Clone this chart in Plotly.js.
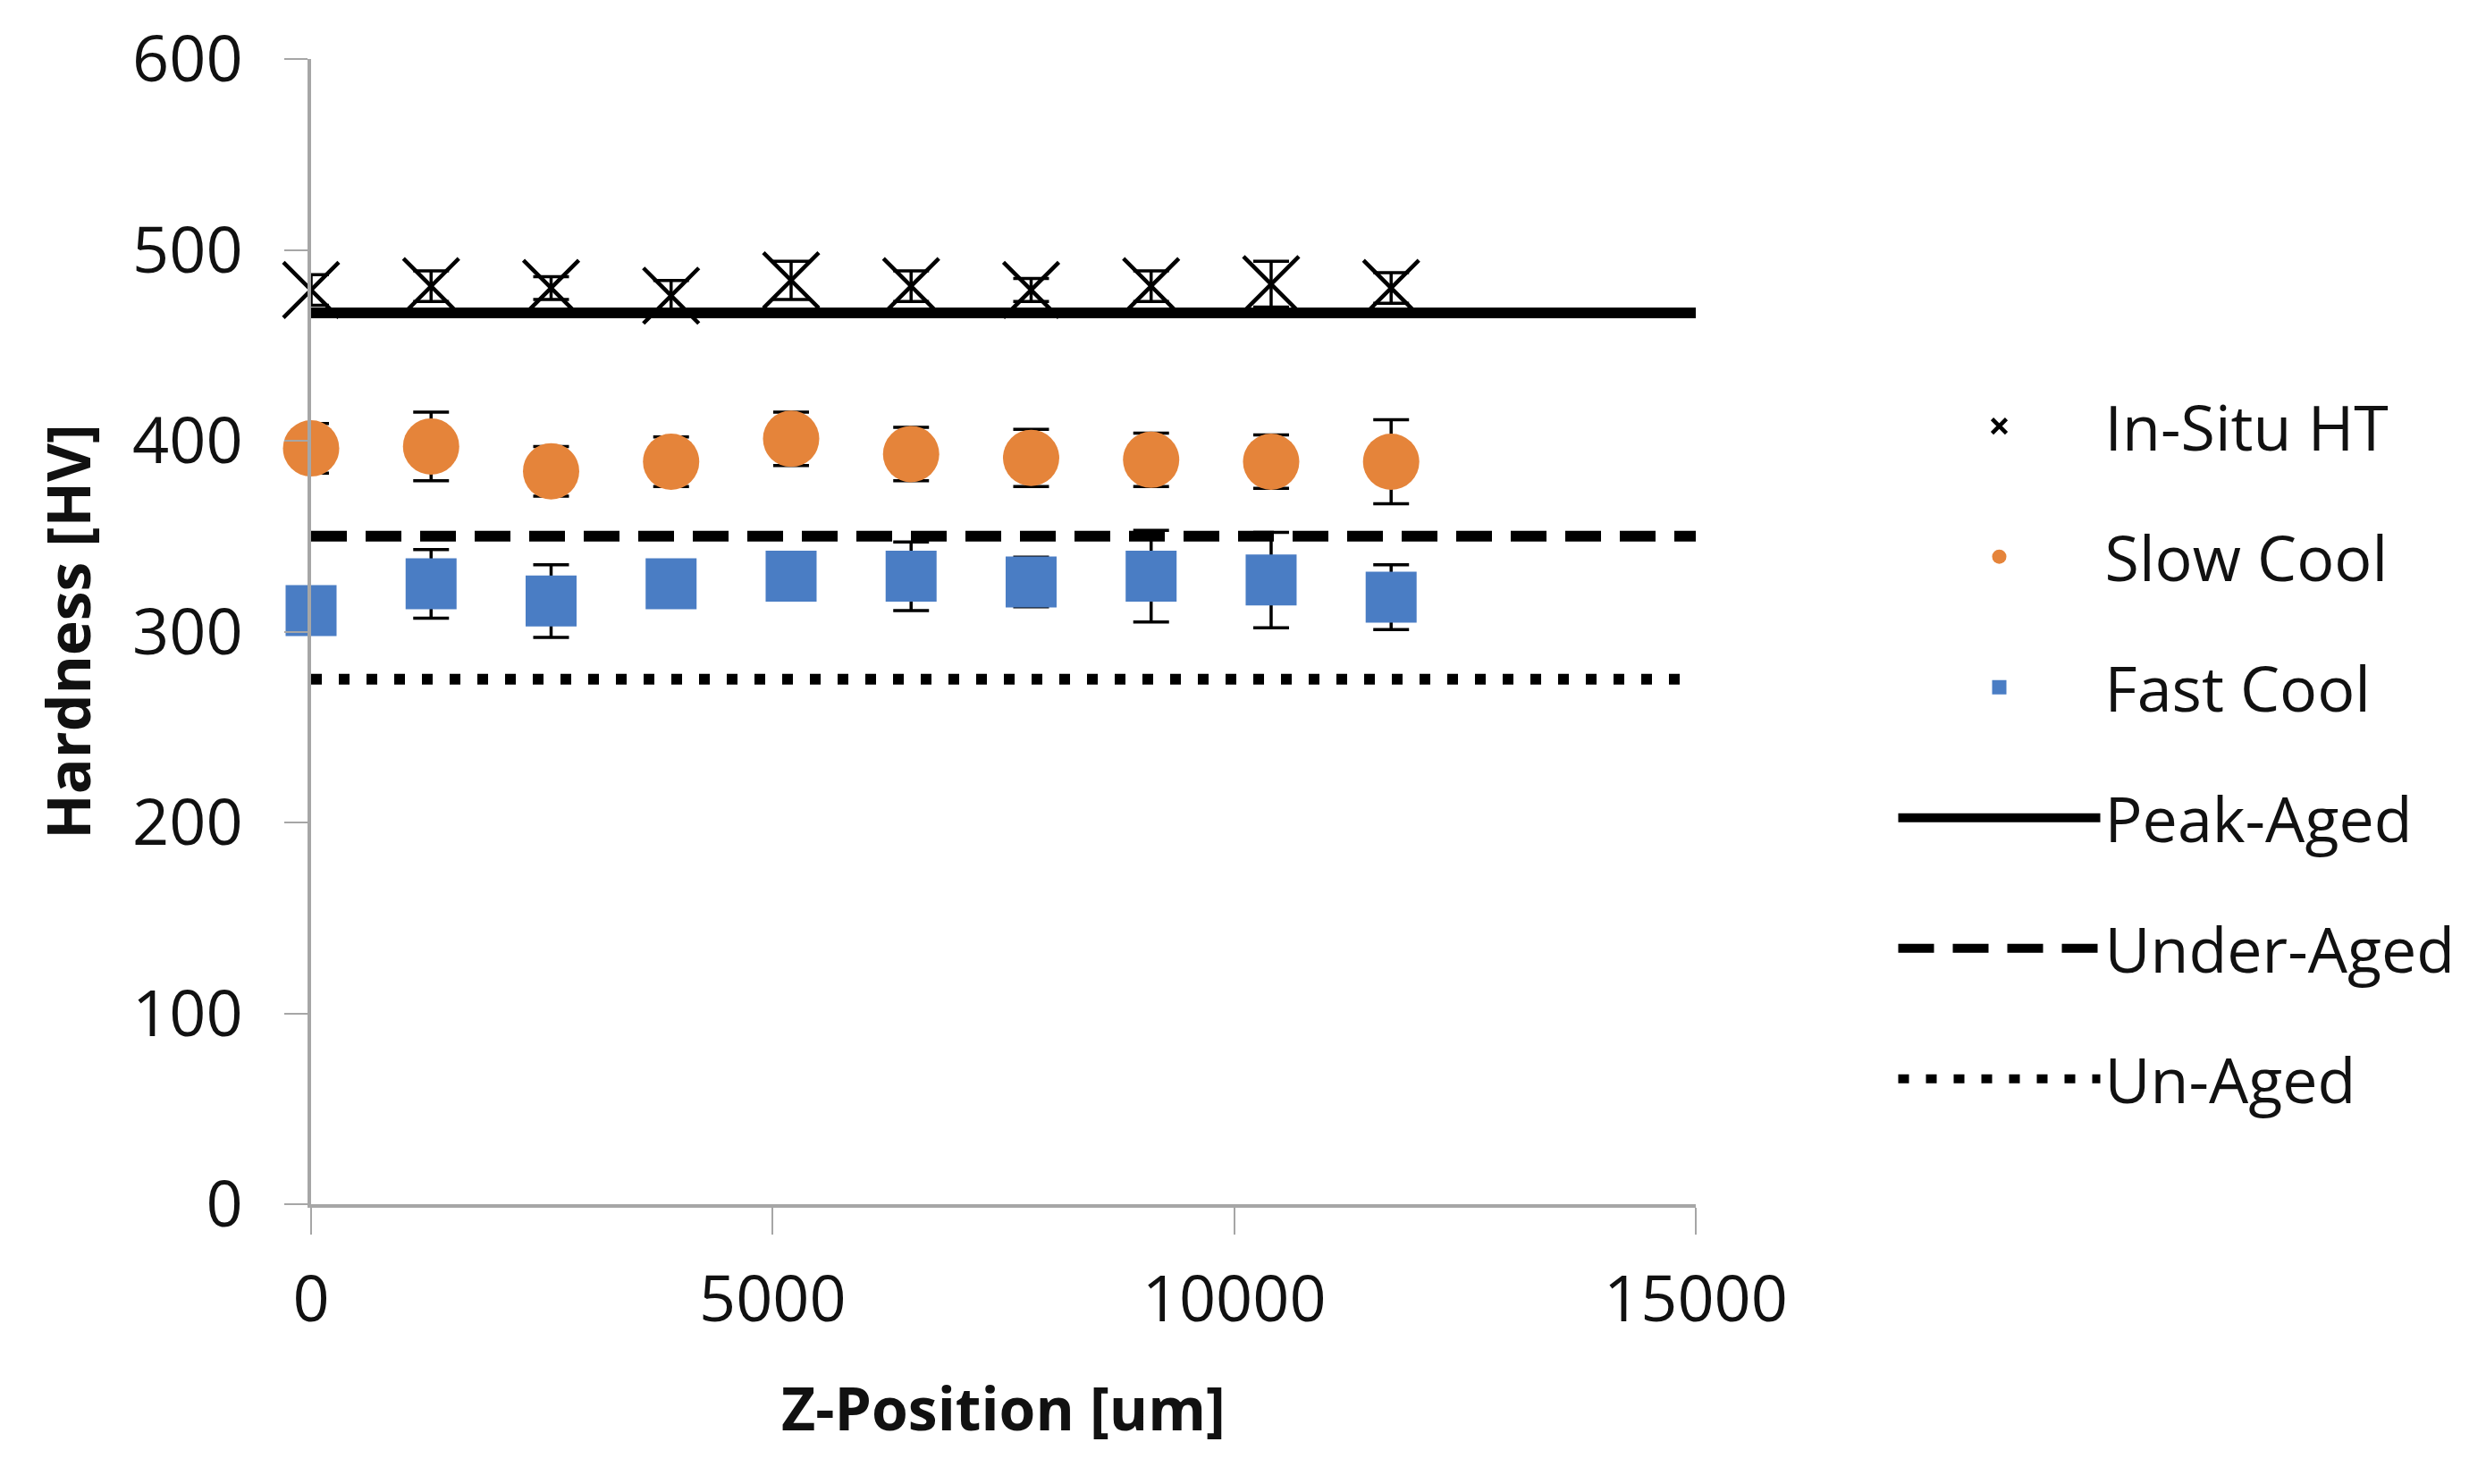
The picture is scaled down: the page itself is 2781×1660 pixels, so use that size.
<!DOCTYPE html>
<html>
<head>
<meta charset="utf-8">
<script src="https://cdn.plot.ly/plotly-3.0.1.min.js"></script>
<style>
  html, body { margin: 0; padding: 0; background: #ffffff; }
  #chart { width: 2781px; height: 1660px; }
</style>
</head>
<body>
<div id="chart"></div>
<script>
// Data
const zPosition = [0, 1300, 2600, 3900, 5200, 6500, 7800, 9100, 10400, 11700];
const inSituHT = [479, 481, 480, 476, 484, 481, 479, 481, 482, 480];
const inSituErr = [8, 8, 6, 8, 10, 8, 6, 8, 12, 8];
const slowCool = [396, 397, 384, 389, 401, 393, 391, 390, 389, 389];
const slowCoolErr = [13, 18, 13, 13, 14, 14, 15, 14, 14, 22];
const fastCool = [311, 325, 316, 325, 329, 329, 326, 329, 327, 318];
const fastCoolErr = [12, 18, 19, 12, 12, 18, 13, 24, 25, 17];
const refX = [0, 15000];
const peakAged = [467, 467];
const underAged = [350, 350];
const unAged = [275, 275];
const xTicks = [0, 5000, 10000, 15000];
const yTicks = [0, 100, 200, 300, 400, 500, 600];

const FONT = '"Open Sans", "Liberation Sans", sans-serif';
const errStyle = (arr) => ({ type: 'data', array: arr, visible: true, color: '#000000', thickness: 3.5, width: 20 });

const traces = [
  { x: refX, y: peakAged, name: 'Peak-Aged', mode: 'lines', legendrank: 4, legendgroup: 'g4',
    line: { color: '#000000', width: 12 }, cliponaxis: false },
  { x: refX, y: underAged, name: 'Under-Aged', mode: 'lines', legendrank: 5, legendgroup: 'g5',
    line: { color: '#000000', width: 12, dash: '40px,21px' }, cliponaxis: false },
  { x: refX, y: unAged, name: 'Un-Aged', mode: 'lines', legendrank: 6, legendgroup: 'g6',
    line: { color: '#000000', width: 12, dash: '12px,19px' }, cliponaxis: false },
  { x: zPosition, y: inSituHT, name: 'In-Situ HT', mode: 'markers', legendrank: 1, legendgroup: 'g1',
    error_y: errStyle(inSituErr),
    marker: { symbol: 'x-thin', size: 62, color: '#000000', line: { color: '#000000', width: 4.5 } }, cliponaxis: false },
  { x: zPosition, y: slowCool, name: 'Slow Cool', mode: 'markers', legendrank: 2, legendgroup: 'g2',
    error_y: errStyle(slowCoolErr),
    marker: { symbol: 'circle', size: 63, color: '#E5843A' }, cliponaxis: false },
  { x: zPosition, y: fastCool, name: 'Fast Cool', mode: 'markers', legendrank: 3, legendgroup: 'g3',
    error_y: errStyle(fastCoolErr),
    marker: { symbol: 'square', size: 57, color: '#4A7DC4' }, cliponaxis: false }
];

const layout = {
  width: 2781, height: 1660,
  paper_bgcolor: '#ffffff', plot_bgcolor: '#ffffff',
  margin: { l: 348, r: 884, t: 66, b: 313, pad: 0, autoexpand: false },
  font: { family: FONT, color: '#111111', size: 72 },
  showlegend: true,
  legend: {
    x: 1.143, xanchor: 'left', y: 0.72, yanchor: 'top',
    font: { family: FONT, size: 70, color: '#111111' },
    itemwidth: 226, tracegroupgap: 52, traceorder: 'grouped',
    bgcolor: 'rgba(0,0,0,0)'
  },
  xaxis: {
    range: [0, 15000], tickvals: xTicks, ticktext: xTicks.map(String),
    showgrid: false, zeroline: false,
    showline: true, linecolor: '#a6a6a6', linewidth: 4,
    ticks: 'outside', ticklen: 30, tickwidth: 2, tickcolor: '#a6a6a6',
    ticklabelstandoff: 11,
    tickfont: { family: FONT, size: 72, color: '#111111' },
    title: { text: 'Z-Position [um]', font: { family: FONT, size: 66, color: '#111111', weight: 'bold' }, standoff: 56 }
  },
  yaxis: {
    range: [0, 600], tickvals: yTicks, ticktext: yTicks.map(String),
    showgrid: false, zeroline: false,
    showline: true, linecolor: '#a6a6a6', linewidth: 4,
    ticks: 'outside', ticklen: 26, tickwidth: 2, tickcolor: '#a6a6a6',
    ticklabelstandoff: 32,
    tickfont: { family: FONT, size: 72, color: '#111111' },
    title: { text: 'Hardness [HV]', font: { family: FONT, size: 66, color: '#111111', weight: 'bold' }, standoff: 26 }
  }
};

Plotly.newPlot('chart', traces, layout, { displayModeBar: false, staticPlot: true });
</script>
</body>
</html>
